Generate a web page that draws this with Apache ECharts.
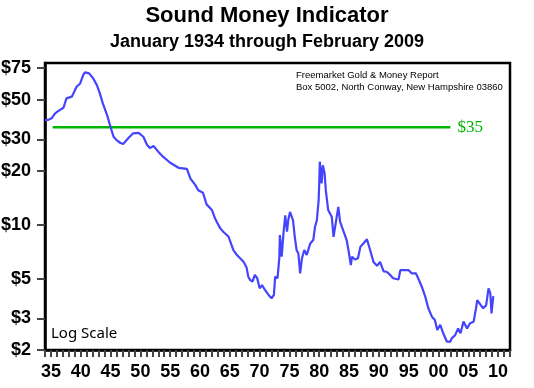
<!DOCTYPE html>
<html>
<head>
<meta charset="utf-8">
<script src="https://cdn.jsdelivr.net/npm/echarts@6/dist/echarts.min.js"></script>
<style>
html,body{margin:0;padding:0;background:#fff;}
#chart{width:534px;height:388px;}
</style>
</head>
<body>
<div id="chart"></div>
<script>
// ---- data ----
var years = [1934.0,1934.5,1935.1,1935.7,1936.2,1937.1,1937.6,1938.5,1939.3,1939.9,1940.4,1940.7,1941.4,1942.1,1942.7,1943.2,1943.7,1943.9,1944.5,1944.9,1945.5,1946.0,1946.6,1947.1,1948.0,1948.8,1949.7,1950.5,1951.1,1951.6,1952.2,1953.0,1953.8,1955.0,1956.4,1957.8,1958.0,1958.4,1959.2,1959.7,1960.5,1961.1,1962.0,1962.5,1962.8,1963.4,1963.9,1964.2,1964.8,1965.0,1965.3,1965.6,1966.2,1966.4,1967.3,1967.8,1968.1,1968.4,1968.8,1969.2,1969.6,1970.0,1970.4,1970.9,1971.5,1972.0,1972.4,1972.6,1973.0,1973.3,1973.4,1973.7,1974.0,1974.3,1974.6,1974.8,1975.1,1975.6,1975.9,1976.2,1976.5,1976.8,1977.1,1977.5,1977.9,1978.5,1979.0,1979.3,1979.6,1979.9,1980.0,1980.1,1980.4,1980.6,1980.9,1981.1,1981.5,1982.1,1982.4,1982.9,1983.2,1983.5,1984.0,1984.6,1984.9,1985.3,1985.5,1986.0,1986.5,1986.9,1987.4,1988.0,1988.5,1989.1,1989.7,1990.2,1990.5,1990.8,1991.3,1991.9,1992.4,1993.3,1993.6,1994.1,1995.0,1995.5,1996.2,1996.6,1997.2,1997.8,1998.3,1998.9,1999.4,1999.8,2000.3,2000.8,2001.4,2002.0,2002.2,2002.8,2003.3,2003.7,2004.2,2004.8,2005.3,2005.9,2006.3,2006.5,2007.1,2007.5,2008.0,2008.4,2008.7,2008.9,2009.1,2009.2];
var values = [38.4,38.5,39.3,41.9,43.1,45,50.8,51.9,58.9,61.5,68.5,70.9,70,65.6,60.2,54.1,47.6,45.6,40.1,36,31,29.7,28.7,28.2,30.5,32.4,32.6,31,28,26.8,27.5,25.6,24,22.2,20.8,20.5,20.2,18.1,16.7,15.6,15.1,13,12.1,10.9,10.4,9.55,9.15,8.95,8.57,8.4,7.7,7.23,6.78,6.63,6.22,5.8,5.13,4.92,4.81,5.25,5.03,4.42,4.61,4.33,4.06,3.89,4.06,5.13,5.03,6.5,8.77,6.63,8.95,11.3,9.15,10.6,11.8,10.6,8.57,7.23,6.92,5.36,6.5,7.23,6.78,7.87,8.22,9.75,10.6,13.7,17,22.5,17,21.5,19.4,15.6,12.1,11.1,8.57,10.9,12.6,10.4,9.35,8.22,7.23,5.96,6.63,6.4,6.5,7.53,7.87,8.3,7.3,6.2,5.9,6.2,6.09,5.5,5.47,5.25,5.03,4.95,5.58,5.58,5.58,5.36,5.36,5.03,4.51,3.96,3.42,3.07,2.94,2.59,2.76,2.48,2.23,2.23,2.32,2.42,2.64,2.48,2.88,2.64,2.82,2.88,3.42,3.80,3.56,3.42,3.56,4.42,4.14,3.2,3.73,4.0];
var refYears = [1935.3, 2002];
var refValue = 35;
var yTickValues = [2, 3, 5, 10, 20, 30, 50, 75];
var xLabelEvery = 5;
var titleText = 'Sound Money Indicator';
var subtitleText = 'January 1934 through February 2009';
var noteLines = ['Freemarket Gold & Money Report', 'Box 5002, North Conway, New Hampshire 03860'];
var refLabel = '$35';
var scaleNote = 'Log Scale';

// ---- chart ----
var chart = echarts.init(document.getElementById('chart'), null, {renderer: 'canvas'});
var seriesData = years.map(function (y, i) { return [y, values[i]]; });
var refData = refYears.map(function (y) { return [y, refValue]; });
var boldFont = 'Liberation Sans, Arial, sans-serif';

var option = {
  backgroundColor: '#ffffff',
  animation: false,
  title: [
    {text: titleText, left: 'center', top: 0,
     textStyle: {fontFamily: boldFont, fontWeight: 'bold', fontSize: 22, color: '#000'}},
    {text: subtitleText, left: 'center', top: 28,
     textStyle: {fontFamily: boldFont, fontWeight: 'bold', fontSize: 18, color: '#000'}}
  ],
  grid: {left: 45, right: 24, top: 63, bottom: 38, show: true, borderColor: '#000', borderWidth: 2.5,
         containLabel: false, outerBoundsMode: 'none'},
  xAxis: {
    type: 'value', min: 1934, max: 2012, interval: 1,
    axisLine: {show: true, lineStyle: {color: '#000', width: 2.5}},
    axisTick: {show: true, length: 7, lineStyle: {color: '#444', width: 2}},
    splitLine: {show: false},
    axisLabel: {
      margin: 13, fontFamily: boldFont, fontWeight: 'bold', fontSize: 18, color: '#000',
      formatter: function (v) {
        if (Math.round(v) % xLabelEvery !== 0) return '';
        var s = String(Math.round(v) % 100);
        return s.length < 2 ? '0' + s : s;
      }
    }
  },
  yAxis: {
    type: 'log', logBase: 10, min: 2, max: 80,
    axisLine: {show: true, lineStyle: {color: '#000', width: 2.5}},
    axisTick: {show: true, length: 8, lineStyle: {color: '#444', width: 2}, customValues: yTickValues},
    splitLine: {show: false},
    minorTick: {show: false},
    axisLabel: {
      margin: 14, fontFamily: boldFont, fontWeight: 'bold', fontSize: 18, color: '#000',
      customValues: yTickValues,
      formatter: function (v) { return '$' + Math.round(v); }
    }
  },
  graphic: [
    {type: 'text', left: 296, top: 70, style: {text: noteLines[0], font: '9.5px Liberation Sans, Arial, sans-serif', fill: '#000'}},
    {type: 'text', left: 296, top: 82, style: {text: noteLines[1], font: '9.5px Liberation Sans, Arial, sans-serif', fill: '#000'}},
    {type: 'text', left: 51, top: 326, style: {text: scaleNote, font: '15px Noto Sans, sans-serif', fill: '#000'}}
  ],
  series: [
    {
      type: 'line', data: refData, showSymbol: false, silent: true,
      lineStyle: {color: '#00b400', width: 2.5},
      endLabel: {show: true, formatter: refLabel, distance: 7, color: '#00b400',
                 fontFamily: 'Liberation Serif, Times New Roman, serif', fontSize: 17}
    },
    {
      type: 'line', data: seriesData, showSymbol: false, silent: true,
      lineStyle: {color: '#4444ff', width: 2.2}
    }
  ]
};
chart.setOption(option);
</script>
</body>
</html>
